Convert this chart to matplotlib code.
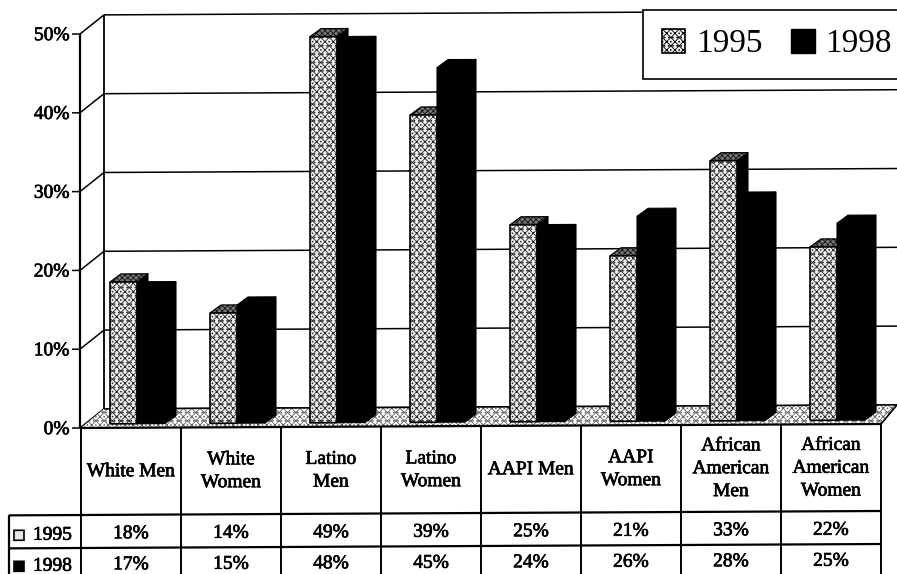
import matplotlib
matplotlib.use("Agg")
import matplotlib.pyplot as plt
import matplotlib.patheffects as pe
from matplotlib.patches import Patch
from matplotlib.transforms import Affine2D

plt.rcParams['font.family'] = ['Liberation Serif', 'DejaVu Serif']
plt.rcParams['hatch.linewidth'] = 0.6

# data
categories = ["White Men", "White\nWomen", "Latino\nMen", "Latino\nWomen", "AAPI Men",
              "AAPI\nWomen", "African\nAmerican\nMen", "African\nAmerican\nWomen"]
years = ["1995", "1998"]
values_1995 = [18, 14, 49, 39, 25, 21, 33, 22]
values_1998 = [17, 15, 48, 45, 24, 26, 28, 25]
y_ticks = [0, 10, 20, 30, 40, 50]

# layout, scan geometry in pixels
W, H = 897, 574
PX_CAT = 100.0      # pixels per category
PX_PCT = 7.88       # pixels per percent
X0, Y0 = 81, 428    # front corner of the plot
TILT = 0.005        # the scan is slightly rotated
SPECKLE = "xxxx...."


def py(px):
    return (Y0 - px) / PX_PCT


def px(x):
    return (x - X0) / PX_CAT


fig = plt.figure(figsize=(W / 100, H / 100), dpi=100)
ax = fig.add_axes([0, 0, 1, 1])
ax.set_xlim(px(0), px(W))
ax.set_ylim(py(H), py(0))
ax.axis("off")

tr = ax.transData + Affine2D().translate(-X0, 0).skew(0, TILT).translate(X0, 0)

wall_dx = 23 / PX_CAT
wall_dy = 19 / PX_PCT
right = px(W)


def line(xs, ys, lw=1.3, z=1):
    ax.plot(xs, ys, color="black", lw=lw, transform=tr, zorder=z, clip_on=False,
            solid_capstyle="butt")


def label(x, y, s, size=14, ha="center", va="center", thick=0.5):
    t = ax.text(x, y, s, fontsize=size, ha=ha, va=va, transform=tr, linespacing=1.45)
    t.set_path_effects([pe.withStroke(linewidth=thick, foreground="black")])
    return t


# walls and gridlines
for v in y_ticks:
    line([wall_dx, right], [v + wall_dy, v + wall_dy], lw=1.1)
    line([-0.01, wall_dx], [v, v + wall_dy], lw=1.1)
    line([-0.09, -0.01], [v, v], lw=1.1)
    label(-0.115, v - 0.2, f"{v}%", ha="right")
line([-0.01, -0.01], [0, 50], lw=1.6)
line([wall_dx, wall_dx], [wall_dy, 50 + wall_dy], lw=1.3)

# floor
ax.fill([0, wall_dx, right, 8], [0, wall_dy, wall_dy, 0], facecolor="white",
        edgecolor="#666666", hatch=SPECKLE, lw=0, transform=tr, zorder=1.5)
line([wall_dx, right], [wall_dy, wall_dy], lw=1.1, z=1.6)
line([8, right], [0, wall_dy], lw=1.2, z=1.6)

# bars, back to front and left to right
depth_x = 11 / PX_CAT
depth_y = 8 / PX_PCT
base = 4 / PX_PCT
bar_left = [0.29, 0.56]
bar_w = [0.27, 0.28]

for i in range(len(categories)):
    for k, vals in enumerate([values_1995, values_1998]):
        x0 = i + bar_left[k]
        x1 = x0 + bar_w[k]
        top = vals[i] + base
        # right side
        ax.fill([x1, x1 + depth_x, x1 + depth_x, x1],
                [base, base + depth_y, top + depth_y, top],
                color="black", lw=0.8, transform=tr, zorder=2)
        if k == 0:
            ax.fill([x0, x1, x1 + depth_x, x0 + depth_x],
                    [top, top, top + depth_y, top + depth_y], facecolor="#777777",
                    edgecolor="#111111", hatch="xxxxxx", lw=0, transform=tr, zorder=2)
            line([x0, x0 + depth_x, x1 + depth_x, x1, x0],
                 [top, top + depth_y, top + depth_y, top, top], lw=0.9, z=2.1)
            ax.fill([x0, x1, x1, x0], [base, base, top, top], facecolor="#efefef",
                    edgecolor="#2a2a2a", hatch=SPECKLE, lw=0, transform=tr, zorder=2.2)
            line([x0, x1, x1, x0, x0], [base, base, top, top, base], lw=1.2, z=2.3)
        else:
            ax.fill([x0, x1, x1 + depth_x, x0 + depth_x],
                    [top, top, top + depth_y, top + depth_y], color="black", lw=0.8,
                    transform=tr, zorder=2)
            ax.fill([x0, x1, x1, x0], [base, base, top, top], color="black", lw=0.8,
                    transform=tr, zorder=2.2)

# data table below the plot
row_head = py(515)
row_a = py(548)
row_b = py(H + 6)
left_col = px(9)
line([0, 8], [0, 0], lw=1.6, z=3)
line([left_col, 8], [row_head, row_head], lw=1.6, z=3)
line([left_col, 8], [row_a, row_a], lw=1.6, z=3)
line([left_col, left_col], [row_head, row_b], lw=1.6, z=3)
for i in range(len(categories) + 1):
    line([i, i], [0, row_b], lw=1.4, z=3)

for i, name in enumerate(categories):
    label(i + 0.5, py(472), name)
    label(i + 0.5, py(534), f"{values_1995[i]}%")
    label(i + 0.5, py(565), f"{values_1998[i]}%")

# row keys
key_w = 10 / PX_CAT
key_h = 10 / PX_PCT
for y, year, dark in [(py(535), years[0], False), (py(566), years[1], True)]:
    x0 = px(14)
    ax.fill([x0, x0 + key_w, x0 + key_w, x0],
            [y - key_h / 2, y - key_h / 2, y + key_h / 2, y + key_h / 2],
            facecolor="black" if dark else "#e8e8e8", edgecolor="black", lw=1.2,
            transform=tr, zorder=3)
    label(px(33), y, year, ha="left")

# legend, cut off by the right edge like the scan
handles = [Patch(facecolor="#efefef", edgecolor="black", hatch=SPECKLE, lw=1.2),
           Patch(facecolor="black", edgecolor="black")]
leg = ax.legend(handles, years, ncol=2, fontsize=24, loc="upper left",
                bbox_to_anchor=(643 / W, 1 - 10 / H), bbox_transform=fig.transFigure,
                fancybox=False, framealpha=1, edgecolor="black", borderaxespad=0,
                handlelength=0.7, handleheight=0.7, handletextpad=0.33,
                columnspacing=0.85, borderpad=0.57, labelspacing=0)
leg.get_frame().set_linewidth(1.2)
leg.set_zorder(5)

fig.savefig("out.png", dpi=100)
